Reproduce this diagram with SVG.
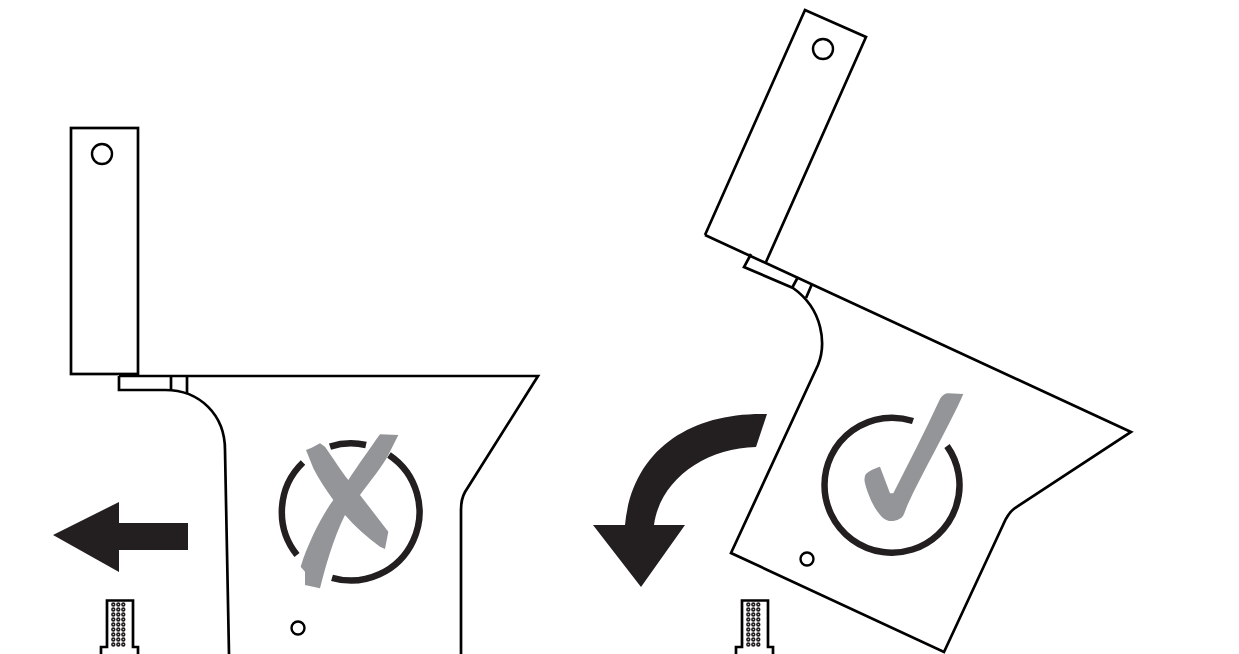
<svg xmlns="http://www.w3.org/2000/svg" width="1239" height="654" viewBox="0 0 1239 654">
<style>
.l{fill:none;stroke:#000;stroke-width:2.7;stroke-linejoin:miter}
.h{fill:#fff;stroke:#000;stroke-width:2.4}
.ring{fill:none;stroke:#231f20;stroke-width:6.5}
.gray{fill:#939598}
.blk{fill:#231f20}
.dot{fill:#fff;stroke:#231f20;stroke-width:1.6}
</style>
<defs>
<g id="plug">
<path class="l" d="M101,654V647H107V600.500H133V647H138V654"/>
<g id="col"><circle class="dot" cx="113.300" cy="604.500" r="1.400"/><circle class="dot" cx="113.300" cy="609.500" r="1.400"/><circle class="dot" cx="113.300" cy="614.500" r="1.400"/><circle class="dot" cx="113.300" cy="619.500" r="1.400"/><circle class="dot" cx="113.300" cy="624.500" r="1.400"/><circle class="dot" cx="113.300" cy="629.500" r="1.400"/><circle class="dot" cx="113.300" cy="634.500" r="1.400"/><circle class="dot" cx="113.300" cy="639.500" r="1.400"/><circle class="dot" cx="113.300" cy="644.500" r="1.400"/></g>
<use href="#col" x="5"/><use href="#col" x="10"/>
</g>
</defs>
<g id="left-part">
<rect class="l" x="71" y="128" width="67" height="246"/>
<circle class="h" cx="102" cy="154" r="10"/>
<path class="l" d="M119,376H538L465,492Q461,499 461,510V654"/>
<path class="l" d="M119,376V390H165C200,390 225,415 225,450L229,654"/>
<path class="l" d="M171,376V390M187,376V393"/>
<circle class="h" cx="298" cy="628" r="6.500"/>
</g>
<g id="left-mark">
<path class="ring" d="M330,446.600A68.500,68.500 0 0 1 366,445M389,455A68.500,68.500 0 0 1 332,577.800M297,555A68.500,68.500 0 0 1 303,462.500"/>
<g transform="translate(270,425) scale(.3333)">
<path class="gray" d="M108,75L125,68L150,55L165,65C190,100 215,140 235,165L270,210L355,320L345,372L330,365C290,335 255,305 225,270L190,225C165,190 145,160 130,130Z"/>
<path class="gray" d="M385,30L330,28C300,70 265,120 235,165L190,225C160,265 115,350 92,425L105,440L105,480L150,490C165,430 190,340 225,270L270,210C300,170 340,120 355,90Z"/>
</g>
</g>
<path id="left-arrow" class="blk" d="M53,535L119,502V523H188V550H119V572Z"/>
<use id="left-plug" href="#plug"/>
<g id="right-part">
<path class="l" d="M705,235L805,10L866,37L766,262"/>
<circle class="h" cx="823" cy="49" r="10"/>
<path class="l" d="M705,235L1131,432L1015,508Q1008,513 1003,525L944,652L731,553L818,365C826,345 824,310 793,288L744,267L751,254"/>
<path class="l" d="M798,277L792,288M812,284L806,298"/>
<circle class="h" cx="807" cy="559" r="6.500"/>
</g>
<g id="right-mark">
<path class="ring" d="M913,421A67.500,67.500 0 1 0 947,446"/>
<g transform="translate(815,385) scale(.3333)">
<path class="gray" d="M445,27L400,25Q385,25 375,42C330,140 280,235 235,325L225,325L195,245C175,252 160,258 152,268Q146,278 150,295C160,335 180,375 200,395Q215,410 235,408Q262,405 268,385C290,320 400,130 445,27Z"/>
</g>
</g>
<path id="right-arrow" class="blk" d="M767,414C690,412 632,450 625,525H593L641,587L685,525H654C660,480 705,448 756,447Z"/>
<use id="right-plug" href="#plug" x="635"/>
</svg>
